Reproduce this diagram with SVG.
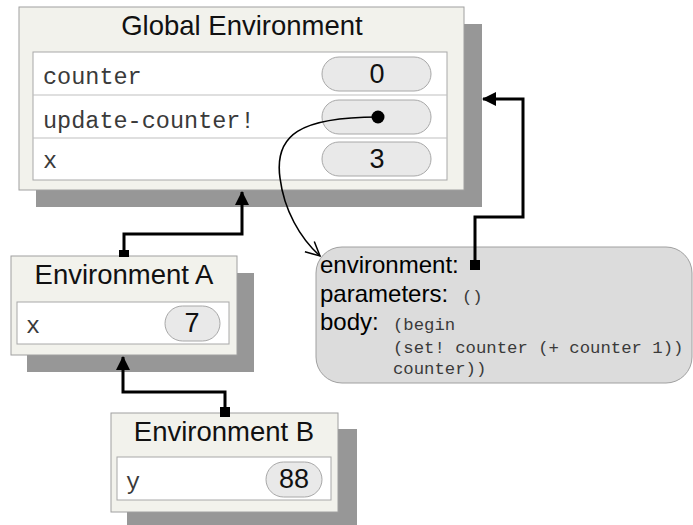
<svg xmlns="http://www.w3.org/2000/svg" width="693" height="525" viewBox="0 0 693 525">
<defs>
<style>
.shadow{fill:#979797}
.frame{fill:#f2f2ec;stroke:#a0a0a0;stroke-width:1}
.table{fill:#ffffff;stroke:#a8a8a8;stroke-width:1}
.sep{stroke:#c0c0c0;stroke-width:1.2}
.pill{fill:#e9e9e9;stroke:#a8a8a8;stroke-width:1}
.title{font-family:"Liberation Sans",Arial,sans-serif;font-size:27.5px;fill:#111;text-anchor:middle}
.name{font-family:"Liberation Mono","Courier New",monospace;font-size:23.5px;fill:#3a3a3a}
.val{font-family:"Liberation Sans",Arial,sans-serif;fill:#111;text-anchor:middle}
.lbl{font-family:"Liberation Sans",Arial,sans-serif;font-size:24px;fill:#000}
.code{font-family:"Liberation Mono","Courier New",monospace;font-size:17.3px;fill:#3a3a3a}
.link{fill:none;stroke:#000;stroke-width:3}
.curve{fill:none;stroke:#000;stroke-width:1.6}
</style>
<marker id="tri" markerWidth="14" markerHeight="14" viewBox="0 0 14 14" refX="13" refY="7" orient="auto" markerUnits="userSpaceOnUse">
<path d="M0,0 L14,7 L0,14 Z" fill="#000"/>
</marker>
<marker id="open" markerWidth="16" markerHeight="16" viewBox="0 0 16 16" refX="15" refY="8" orient="auto" markerUnits="userSpaceOnUse">
<path d="M1,1 L15,8 L1,15" fill="none" stroke="#000" stroke-width="1.5"/>
</marker>
</defs>

<g id="global-env">
<rect class="shadow" x="36" y="24" width="446" height="183"/>
<rect class="frame" x="19" y="7" width="445" height="183"/>
<text class="title" x="242" y="35">Global Environment</text>
<rect class="table" x="33" y="52" width="414" height="128"/>
<line class="sep" x1="33" y1="95" x2="447" y2="95"/>
<line class="sep" x1="33" y1="138" x2="447" y2="138"/>
<text class="name" x="43" y="84">counter</text>
<text class="name" x="43" y="128">update-counter!</text>
<text class="name" x="43" y="168">x</text>
<rect class="pill" x="322" y="57" width="109" height="34" rx="17"/>
<rect class="pill" x="322" y="100" width="109" height="34" rx="17"/>
<rect class="pill" x="322" y="142" width="109" height="34" rx="17"/>
<text class="val" x="377" y="83" font-size="27">0</text>
<circle cx="378" cy="117" r="6.5" fill="#000"/>
<text class="val" x="377" y="168" font-size="27">3</text>
</g>

<g id="env-a">
<rect class="shadow" x="27" y="273" width="227" height="99"/>
<rect class="frame" x="11" y="256" width="226" height="99"/>
<text class="title" x="124" y="284">Environment A</text>
<rect class="table" x="17" y="302" width="212" height="42"/>
<text class="name" x="26" y="333">x</text>
<rect class="pill" x="165" y="306" width="55" height="35" rx="17.5"/>
<text class="val" x="192" y="332" font-size="27">7</text>
</g>

<g id="env-b">
<rect class="shadow" x="127" y="429" width="230" height="99"/>
<rect class="frame" x="111" y="413" width="227" height="99"/>
<text class="title" x="224" y="441">Environment B</text>
<rect class="table" x="117" y="457" width="214" height="43"/>
<text class="name" x="126" y="489">y</text>
<rect class="pill" x="266" y="462" width="56" height="35" rx="17.5"/>
<text class="val" x="294" y="488" font-size="27">88</text>
</g>

<g id="procedure">
<rect x="316" y="247" width="376" height="136" rx="26" fill="#dcdcdc" stroke="#a0a0a0" stroke-width="1"/>
<text class="lbl" x="320" y="273">environment:</text>
<text class="lbl" x="320" y="302">parameters:</text>
<text class="code" x="462" y="302">()</text>
<text class="lbl" x="320" y="330">body:</text>
<text class="code" x="393" y="330">(begin</text>
<text class="code" x="393" y="353">(set! counter (+ counter 1))</text>
<text class="code" x="393" y="374"> counter))</text>
</g>

<g id="connectors">
<path class="curve" d="M378,117 C300,117 274,135 280,178 C284,210 300,238 320,256" marker-end="url(#open)"/>
<rect x="470" y="260" width="10" height="10" fill="#000"/>
<path class="link" d="M475,262 V217 H523 V99 H483" marker-end="url(#tri)"/>
<rect x="119" y="250" width="10" height="7" fill="#000"/>
<path class="link" d="M124,254 V234 H242 V192" marker-end="url(#tri)"/>
<rect x="220" y="407" width="10" height="10" fill="#000"/>
<path class="link" d="M225,410 V392 H123 V357" marker-end="url(#tri)"/>
</g>
</svg>
